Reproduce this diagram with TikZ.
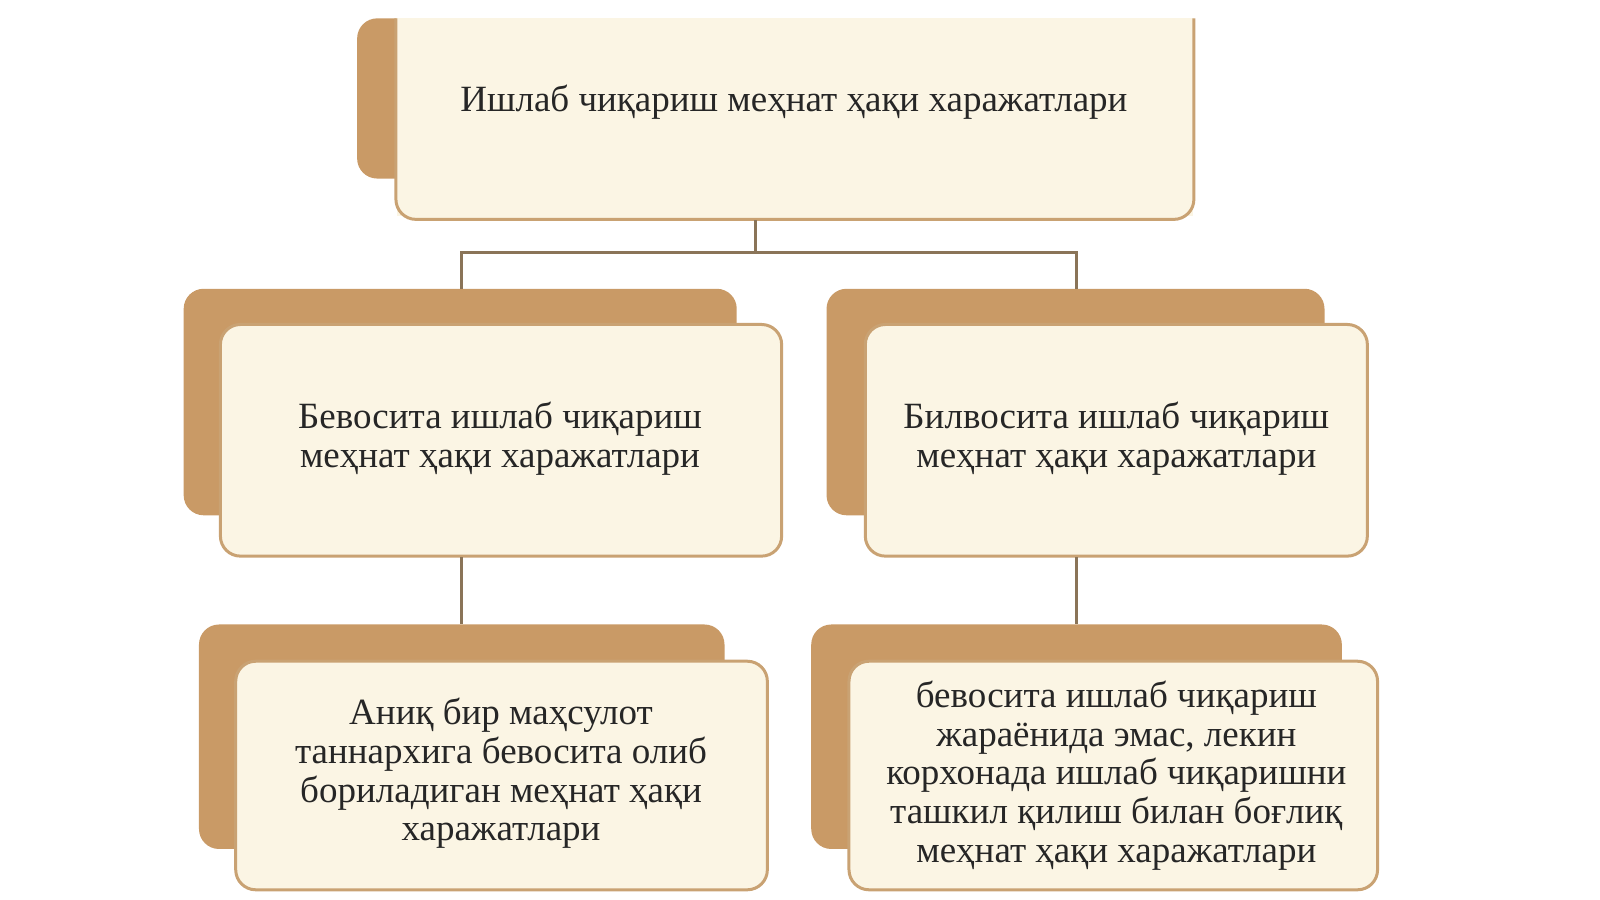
\documentclass[tikz,border=0pt]{standalone}
\usepackage{fontspec}
\setmainfont{Liberation Serif}
\begin{document}
\begin{tikzpicture}[x=0.51pt,y=-0.51pt]
\definecolor{backc}{HTML}{C99A66}
\definecolor{frontc}{HTML}{FBF5E4}
\definecolor{edgec}{HTML}{C9A273}
\definecolor{linec}{HTML}{8A7458}
\tikzset{back/.style={fill=backc,draw=none,rounded corners=10pt},
 front/.style={fill=frontc,draw=edgec,line width=1.5pt,rounded corners=10pt},
 txt/.style={font=\fontsize{18.5}{19.3}\selectfont,align=center,text=black!85},
 conn/.style={draw=linec,line width=1.5pt}}
\useasboundingbox (0,0) rectangle (1568,882);
% top
\fill[backc,rounded corners=10pt] (350,18) rectangle (1168,175);
\fill[frontc] (389,18) rectangle (1169,212);
\draw[front] (388,18) -- (388,215) -- (1170,215) -- (1170,18);
\node[txt] (top) at (778,100) {Ишлаб чиқариш меҳнат ҳақи харажатлари};
% mid left
\fill[back] (180,283) rectangle (722,505);
\draw[front] (216,318) rectangle (766,545);
\node[txt] (ml) at (490,430) {Бевосита ишлаб чиқариш\\меҳнат ҳақи харажатлари};
% mid right
\fill[back] (810,283) rectangle (1298,505);
\draw[front] (848,318) rectangle (1340,545);
\node[txt] (mr) at (1094,430) {Билвосита ишлаб чиқариш\\меҳнат ҳақи харажатлари};
% bottom left
\fill[back] (195,612) rectangle (710,832);
\draw[front] (231,648) rectangle (752,872);
\node[txt] (bl) at (491,758) {Аниқ бир маҳсулот\\таннархига бевосита олиб\\бориладиган меҳнат ҳақи\\харажатлари};
% bottom right
\fill[back] (795,612) rectangle (1315,832);
\draw[front] (832,648) rectangle (1350,872);
\node[txt] (br) at (1094,760) {бевосита ишлаб чиқариш\\жараёнида эмас, лекин\\корхонада ишлаб чиқаришни\\ташкил қилиш билан боғлиқ\\меҳнат ҳақи харажатлари};
% connectors
\coordinate (t0) at (740,216);
\coordinate (t1) at (740,247);
\coordinate (a1) at (452,247);
\coordinate (a2) at (452,283);
\coordinate (b1) at (1055,247);
\coordinate (b2) at (1055,283);
\coordinate (c1) at (452,546);
\coordinate (c2) at (452,612);
\coordinate (d1) at (1055,546);
\coordinate (d2) at (1055,612);
\draw[conn] (t0) -- (t1);
\draw[conn] (a2) -- (a1) -- (b1) -- (b2);
\draw[conn] (c1) -- (c2);
\draw[conn] (d1) -- (d2);
\end{tikzpicture}
\end{document}
